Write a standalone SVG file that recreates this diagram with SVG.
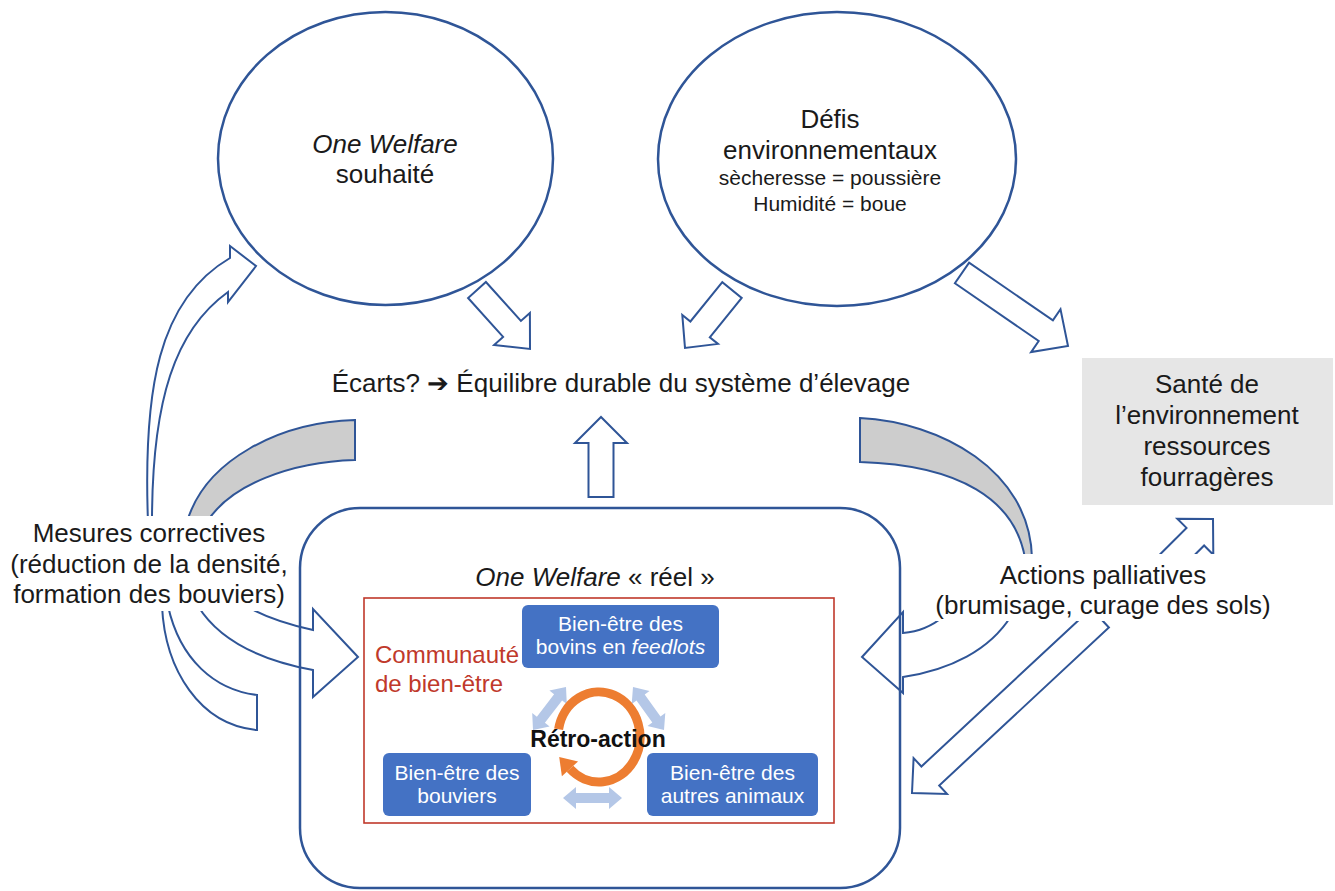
<svg xmlns="http://www.w3.org/2000/svg" width="1335" height="891" viewBox="0 0 1335 891">
<style>
.blk{fill:#fff;stroke:#2f5597;stroke-width:2;stroke-linejoin:miter}
.gry{fill:#cdcdcd;stroke:#2f5597;stroke-width:2}
.node{fill:#fff;stroke:#2f5597;stroke-width:2.5}
.t{font-family:"Liberation Sans",Arial,sans-serif;fill:#1a1a1a;font-size:26px;text-anchor:middle}
.s21{font-size:21px}
.bt{font-family:"Liberation Sans",Arial,sans-serif;fill:#fff;font-size:21px;text-anchor:middle}
.box{fill:#4472c4}
.lb{fill:#b4c7e7}
.bg{fill:#fff}
</style>
<rect width="1335" height="891" fill="#fff"/>
<g id="connectors">
  <!-- ellipse 1 to centre -->
  <polygon class="blk" points="468.1,298 503.1,336.9 494.1,344.9 530,349 529.9,312.9 520.9,320.9 485.9,282"/>
  <!-- ellipse 2 to centre -->
  <polygon class="blk" points="722.3,282.1 690.4,321.5 682.3,314.9 685,348 718,343.9 709.8,337.3 741.7,297.9"/>
  <!-- ellipse 2 to Santé -->
  <polygon class="blk" points="954.9,283.3 1038.7,341 1031.1,352.1 1068,346 1060.5,309.3 1052.9,320.4 969.1,262.7"/>
  <!-- main box up to centre -->
  <polygon class="blk" points="588.5,497 588.5,443 575,443 601,417 627,443 613.5,443 613.5,497"/>
  <!-- actions to Santé -->
  <polygon class="blk" points="1144.1,570.3 1186.5,527.9 1177.3,518.7 1213,519 1213.3,554.7 1204.1,545.5 1161.7,587.9"/>
  <!-- actions to main box (long) -->
  <polygon class="blk" points="1091.2,608.5 921.4,766.5 913.6,758.1 912,793 947,793.9 939.2,785.5 1108.9,627.5"/>
  <!-- mesures up to ellipse 1 -->
  <path class="blk" d="M148,522 C143,390 158,300 230,258 L230,246 L256,266 L228,302 L228,292 C175,330 152,400 152,522"/>
  <!-- gray left -->
  <path class="gry" d="M355,420 C280,422 205,460 187,522 L207,522 C230,485 290,462 355,460 Z"/>
  <!-- gray right -->
  <path class="gry" d="M860,418 C940,422 1030,470 1032,558 L1025,558 C1015,500 960,465 860,462 Z"/>
  <!-- mesures to main box -->
  <path class="blk" d="M246,606 C270,620 295,626 313,630 L313,609 L358,657 L313,697 L313,670 C270,662 222,645 198,606"/>
  <!-- mesures lower curved -->
  <path class="blk" d="M162,606 C165,670 200,725 257,730 L257,695 C215,690 180,660 168,606"/>
  <!-- actions to main box (curved) -->
  <path class="blk" d="M944,616 C930,628 915,632 903,633 L903,612 L862,657 L903,693 L903,677 C950,670 990,650 1011,616"/>
</g>
<g id="node-souhaite">
  <ellipse class="node" cx="385.5" cy="158.5" rx="167.5" ry="146.5"/>
  <text class="t" x="385" y="153" font-style="italic">One Welfare</text>
  <text class="t" x="385" y="183">souhaité</text>
</g>
<g id="node-defis">
  <ellipse class="node" cx="837" cy="159" rx="179" ry="147"/>
  <text class="t" x="830" y="128">Défis</text>
  <text class="t" x="830" y="159">environnementaux</text>
  <text class="t s21" x="830" y="185">sècheresse = poussière</text>
  <text class="t s21" x="830" y="211">Humidité = boue</text>
</g>
<g id="node-equilibre">
  <text class="t" x="621" y="392">Écarts? ➔ Équilibre durable du système d’élevage</text>
</g>
<g id="node-sante">
  <rect x="1082" y="358" width="251" height="147" fill="#e6e6e6"/>
  <text class="t" x="1207" y="393">Santé de</text>
  <text class="t" x="1207" y="424">l’environnement</text>
  <text class="t" x="1207" y="455">ressources</text>
  <text class="t" x="1207" y="486">fourragères</text>
</g>
<g id="node-mesures">
  <rect class="bg" x="6" y="516" width="290" height="95"/>
  <text class="t" x="149" y="542">Mesures correctives</text>
  <text class="t" x="149" y="573">(réduction de la densité,</text>
  <text class="t" x="149" y="603">formation des bouviers)</text>
</g>
<g id="node-actions">
  <rect class="bg" x="930" y="554" width="348" height="67"/>
  <text class="t" x="1103" y="584">Actions palliatives</text>
  <text class="t" x="1103" y="614">(brumisage, curage des sols)</text>
</g>
<g id="node-reel">
  <rect x="300" y="508" width="600" height="380" rx="60" ry="60" fill="none" stroke="#2f5597" stroke-width="2.5"/>
  <text class="t" x="595" y="586"><tspan font-style="italic">One Welfare</tspan> « réel »</text>
  <rect x="364" y="598" width="470" height="225" fill="none" stroke="#c0392b" stroke-width="1.6"/>
  <text x="375" y="663" font-family="Liberation Sans, Arial, sans-serif" font-size="24" fill="#c0392b">Communauté</text>
  <text x="375" y="692" font-family="Liberation Sans, Arial, sans-serif" font-size="24" fill="#c0392b">de bien-être</text>
</g>
<g id="node-bovins">
  <rect class="box" x="522" y="605" width="197" height="63" rx="6"/>
  <text class="bt" x="620.5" y="631">Bien-être des</text>
  <text class="bt" x="620.5" y="654">bovins en <tspan font-style="italic">feedlots</tspan></text>
</g>
<g id="node-bouviers">
  <rect class="box" x="383" y="753" width="148" height="63" rx="6"/>
  <text class="bt" x="457" y="780">Bien-être des</text>
  <text class="bt" x="457" y="803">bouviers</text>
</g>
<g id="node-animaux">
  <rect class="box" x="647" y="753" width="171" height="63" rx="6"/>
  <text class="bt" x="732.5" y="780">Bien-être des</text>
  <text class="bt" x="732.5" y="803">autres animaux</text>
</g>
<g id="node-retroaction">
  <polygon class="lb" points="566,687 549.4,690.6 554.1,694.3 536.9,716.7 532.2,713 533,730 549.6,726.4 544.9,722.8 562.1,700.4 566.8,704"/>
  <polygon class="lb" points="633,687 631.7,703.9 636.5,700.4 652.3,722.4 647.5,725.9 664,730 665.3,713.1 660.5,716.6 644.7,694.6 649.5,691.1"/>
  <polygon class="lb" points="563,798 576,809 576,803 609,803 609,809 622,798 609,787 609,793 576,793 576,787"/>
  <path d="M558.6,729.2 A41,45 0 1 1 570,768.8" fill="none" stroke="#ed7d31" stroke-width="9"/>
  <polygon points="559.2,757 578.1,761.4 561.9,776.2" fill="#ed7d31"/>
  <text x="598" y="747" font-family="Liberation Sans, Arial, sans-serif" font-size="23" font-weight="bold" fill="#111" text-anchor="middle">Rétro-action</text>
</g>
</svg>
